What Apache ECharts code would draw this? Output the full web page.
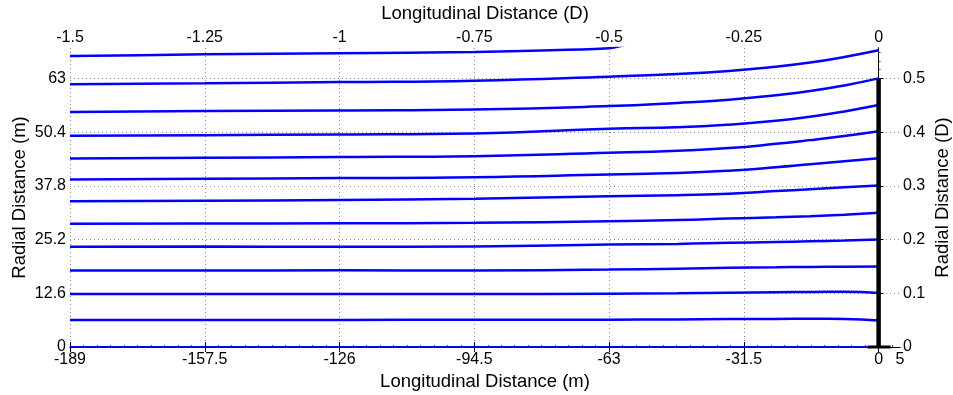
<!DOCTYPE html>
<html><head><meta charset="utf-8">
<script src="https://cdn.jsdelivr.net/npm/echarts@6/dist/echarts.min.js"></script>
<style>html,body{margin:0;padding:0;background:#fff}#c{width:953px;height:395px}</style>
</head><body><div id="c"></div>
<script>
// Rotor diameter (m)
const D = 126;
// Axis ranges
const xMinM = -189, xMaxM = 5;
const yMinM = 0, yMaxM = 70.2;
// Tick labels
const xTicksM = [-189, -157.5, -126, -94.5, -63, -31.5, 0, 5];
const xTicksD = [-1.5, -1.25, -1, -0.75, -0.5, -0.25, 0];
const yTicksM = [0, 12.6, 25.2, 37.8, 50.4, 63];
const yTicksD = [0, 0.1, 0.2, 0.3, 0.4, 0.5];
// Streamline sample positions (m)
const xPts = [-189, -157.5, -126, -94.5, -63, -47, -35, -24, -16, -8, 0];
// Streamline radial positions (m), labelled by radius at the rotor plane (D)
const r005 = [6.35, 6.35, 6.35, 6.42, 6.42, 6.48, 6.55, 6.6, 6.65, 6.6, 6.25];
const r010 = [12.46, 12.46, 12.46, 12.42, 12.53, 12.6, 12.72, 12.84, 12.93, 12.95, 12.69];
const r015 = [17.94, 17.94, 18.0, 17.98, 18.17, 18.4, 18.6, 18.72, 18.81, 18.87, 18.88];
const r020 = [23.51, 23.58, 23.55, 23.6, 24.05, 24.2, 24.45, 24.65, 24.82, 25.0, 25.22];
const r025 = [28.91, 28.98, 29.05, 29.15, 29.52, 29.8, 30.15, 30.45, 30.72, 31.07, 31.5];
const r030 = [34.23, 34.32, 34.5, 34.79, 35.4, 35.63, 36.0, 36.6, 37.05, 37.5, 37.92];
const r035 = [39.33, 39.49, 39.65, 39.87, 40.5, 40.85, 41.4, 42.2, 42.9, 43.6, 44.33];
const r040 = [44.26, 44.43, 44.6, 44.81, 45.6, 46.1, 46.7, 47.7, 48.57, 49.55, 50.68];
const r045 = [49.6, 49.74, 49.9, 50.14, 51.25, 51.6, 52.2, 53.1, 54.07, 55.31, 56.8];
const r050 = [55.15, 55.38, 55.55, 55.78, 56.56, 57.3, 58.05, 59.1, 60.08, 61.42, 63.07];
const r055 = [61.66, 61.9, 62.2, 62.53, 63.47, 64.1, 64.8, 65.8, 66.77, 68.08, 69.65];
const x060 = [-189, -157.5, -126, -94.5, -63, -58];
const r060 = [68.3, 68.71, 68.95, 69.25, 70.12, 71.3];
// Centreline, rotor disc and hub
const centreX = [-189, -2.6], centreY = [0, 0];
const rotorX = [0, 0], rotorY = [0, 63];
const hubX = [-2.6, 2.8], hubY = [0, 0];

const pair = (xs, ys) => xs.map((x, i) => [x, ys[i]]);
const streams = [r005, r010, r015, r020, r025, r030, r035, r040, r045, r050, r055];

const FONT = 'Liberation Sans, Arial, sans-serif';
const axisLineStyle = { lineStyle: { color: '#000', width: 1 } };
const gridLine = { show: true, lineStyle: { color: '#8a8a8a', width: 1, type: [1, 3] } };

const series = [];
streams.forEach(ys => series.push({
  type: 'line', data: pair(xPts, ys), smooth: 0.5,
  showSymbol: false, symbol: 'none', clip: true,
  lineStyle: { color: '#0000ff', width: 2.5 }, z: 3
}));
series.push({ type: 'line', data: pair(x060, r060), smooth: 0.2,
  symbol: 'none', clip: true, lineStyle: { color: '#0000ff', width: 2.5 }, z: 3 });
series.push({ type: 'line', data: pair(centreX, centreY), symbol: 'none', clip: false,
  lineStyle: { color: '#0000ff', width: 2 }, z: 3 });
series.push({ type: 'line', data: pair(rotorX, rotorY), symbol: 'none', clip: false,
  lineStyle: { color: '#000', width: 4.5 }, z: 4 });
series.push({ type: 'line', data: pair(hubX, hubY), symbol: 'none', clip: false,
  lineStyle: { color: '#000', width: 3 }, z: 4 });

const chart = echarts.init(document.getElementById('c'), null, { renderer: 'canvas' });
chart.setOption({
  animation: false,
  backgroundColor: '#fff',
  textStyle: { fontFamily: FONT },
  grid: { left: 70, right: 53, top: 48, bottom: 48, containLabel: false, outerBoundsMode: 'none' },
  xAxis: [{
    type: 'value', position: 'bottom', min: xMinM, max: xMaxM, interval: 31.5,
    name: 'Longitudinal Distance (m)', nameLocation: 'middle', nameGap: 25, nameMoveOverlap: false,
    nameTextStyle: { fontSize: 18.5, color: '#000', fontFamily: FONT },
    axisLine: axisLineStyle,
    axisTick: { show: true, inside: true, length: 5, lineStyle: { color: '#000' }, customValues: xTicksM.slice(0, -1) },
    minorTick: { show: true, splitNumber: 10, length: 2, lineStyle: { color: '#555' } },
    axisLabel: { customValues: xTicksM, fontSize: 16, color: '#000', margin: 5, fontFamily: FONT },
    splitLine: gridLine
  }, {
    type: 'value', position: 'top', min: xMinM / D, max: xMaxM / D, interval: 0.25,
    name: 'Longitudinal Distance (D)', nameLocation: 'middle', nameGap: 25, nameMoveOverlap: false,
    nameTextStyle: { fontSize: 18.5, color: '#000', fontFamily: FONT },
    axisLine: axisLineStyle,
    axisTick: { show: true, inside: true, length: 5, lineStyle: { color: '#000' }, customValues: xTicksD },
    axisLabel: { customValues: xTicksD, fontSize: 16, color: '#000', margin: 2, fontFamily: FONT },
    splitLine: { show: false }
  }],
  yAxis: [{
    type: 'value', position: 'left', min: yMinM, max: yMaxM, interval: 12.6,
    name: 'Radial Distance (m)', nameLocation: 'middle', nameGap: 41, nameMoveOverlap: false,
    nameTextStyle: { fontSize: 18.5, color: '#000', fontFamily: FONT },
    axisLine: axisLineStyle,
    axisTick: { show: true, inside: true, length: 5, lineStyle: { color: '#000' }, customValues: yTicksM },
    minorTick: { show: true, splitNumber: 6, length: 2, lineStyle: { color: '#555' } },
    axisLabel: { customValues: yTicksM, fontSize: 16, color: '#000', margin: 4, fontFamily: FONT },
    splitLine: gridLine
  }, {
    type: 'value', position: 'right', min: yMinM / D, max: yMaxM / D, interval: 0.1,
    name: 'Radial Distance (D)', nameLocation: 'middle', nameGap: 33, nameMoveOverlap: false,
    nameTextStyle: { fontSize: 18.5, color: '#000', fontFamily: FONT },
    axisLine: axisLineStyle,
    axisTick: { show: true, inside: true, length: 5, lineStyle: { color: '#000' }, customValues: yTicksD },
    axisLabel: { customValues: yTicksD, fontSize: 16, color: '#000', margin: 3, fontFamily: FONT },
    splitLine: { show: false }
  }],
  series: series
});
</script>
</body></html>
